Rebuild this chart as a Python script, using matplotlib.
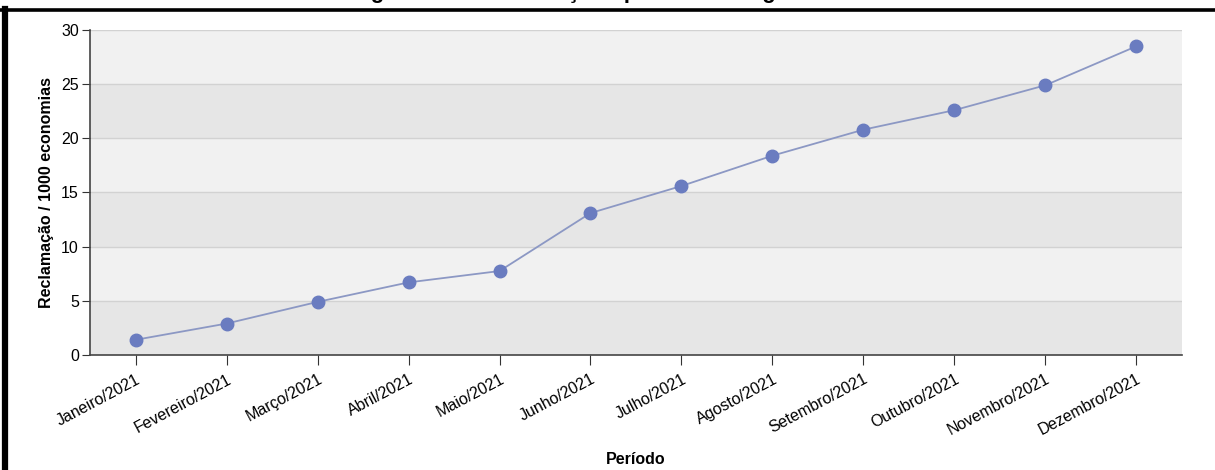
import matplotlib
matplotlib.use("Agg")
import matplotlib.pyplot as plt
from matplotlib.lines import Line2D
from matplotlib.patches import Rectangle

plt.rcParams["font.family"] = ["Liberation Sans", "DejaVu Sans"]

meses = [
    "Janeiro/2021", "Fevereiro/2021", "Março/2021", "Abril/2021",
    "Maio/2021", "Junho/2021", "Julho/2021", "Agosto/2021",
    "Setembro/2021", "Outubro/2021", "Novembro/2021", "Dezembro/2021",
]
reclamacoes = [1.4, 2.9, 4.9, 6.7, 7.75, 13.1, 15.6, 18.4, 20.8, 22.6, 24.9, 28.5]
y_ticks = [0, 5, 10, 15, 20, 25, 30]

fig = plt.figure(figsize=(12.15, 4.7), dpi=100)
ax = fig.add_axes([0.0741, 0.2447, 0.8987, 0.6915])

# alternating horizontal bands
for i in range(len(y_ticks) - 1):
    cor = "#e6e6e6" if i % 2 == 0 else "#f1f1f1"
    ax.add_patch(Rectangle((-0.5, y_ticks[i]), 12, y_ticks[i + 1] - y_ticks[i],
                           facecolor=cor, edgecolor="none", zorder=0))
for y in y_ticks[1:]:
    ax.axhline(y, color="#d2d2d2", linewidth=1, zorder=1)

x = list(range(len(meses)))
ax.plot(x, reclamacoes, color="#8c98c4", linewidth=1.3, zorder=2)
ax.plot(x, reclamacoes, "o", color="#6a7cc0", markersize=9, zorder=3)

ax.set_xlim(-0.5, 11.5)
ax.set_ylim(0, 30)
ax.set_yticks(y_ticks)
ax.set_xticks(x)
ax.set_xticklabels(meses, rotation=28, ha="right", rotation_mode="anchor", fontsize=11.5)
ax.tick_params(axis="y", labelsize=11.5, length=6, color="#333333", pad=2)
ax.tick_params(axis="x", length=7, color="#333333", pad=5)

for s in ["top", "right"]:
    ax.spines[s].set_visible(False)
for s in ["left", "bottom"]:
    ax.spines[s].set_color("#444444")
    ax.spines[s].set_linewidth(1.2)

ax.set_ylabel("Reclamação / 1000 economias", fontsize=11.5, fontweight="bold", labelpad=5)
ax.set_xlabel("Período", fontsize=11.5, fontweight="bold", labelpad=10)

# cropped caption and frame
fig.text(0.5, 1.015, "Figura 108: Reclamações por falta de água 2021.", ha="center",
         va="center", fontsize=16, fontweight="bold")
fig.add_artist(Line2D([0, 1], [0.9795, 0.9795], color="black", linewidth=2.6))
fig.add_artist(Line2D([0.0045, 0.0045], [0, 0.98], color="black", linewidth=4.5))

fig.savefig("out.png", dpi=100)
